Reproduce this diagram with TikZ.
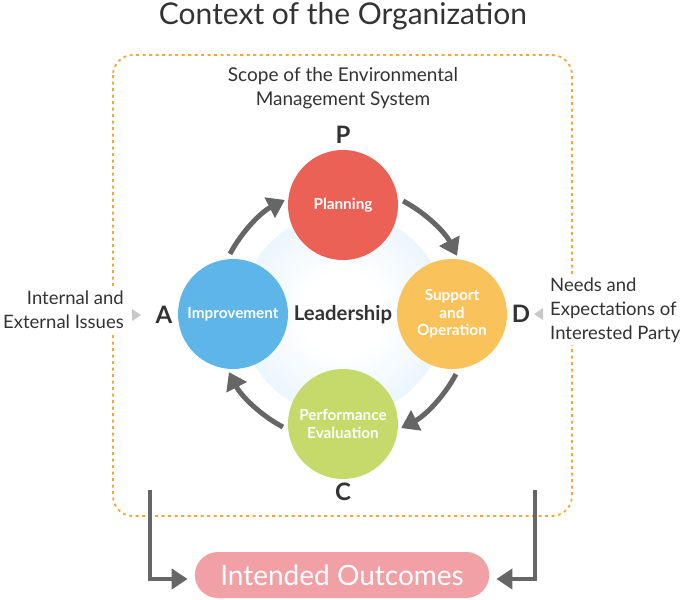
\documentclass[tikz,border=0pt]{standalone}
\usepackage{fontspec}
\setmainfont{Lato}
\usetikzlibrary{arrows.meta,shapes.misc}
\definecolor{cred}{HTML}{EB6155}
\definecolor{cyellow}{HTML}{F9C25A}
\definecolor{cblue}{HTML}{5DB5E8}
\definecolor{cgreen}{HTML}{C5DA6A}
\definecolor{cpink}{HTML}{F1A0A6}
\definecolor{corange}{HTML}{F2A93B}
\definecolor{cgray}{HTML}{666666}
\definecolor{ctext}{HTML}{333333}
\definecolor{ctri}{HTML}{C8C8C8}
\definecolor{glowblue}{HTML}{CBE6FA}
\pgfdeclareradialshading{glow}{\pgfpoint{0bp}{0bp}}{color(0bp)=(white);color(10bp)=(white);color(50bp)=(glowblue)}
\tikzset{
  phase/.style={circle, minimum size=110pt, inner sep=0pt, text=white, align=center,
    font=\fontsize{15.3}{17.5}\selectfont\bfseries},
  letter/.style={text=ctext, font=\fontsize{24}{26}\selectfont\bfseries, inner sep=0pt},
  sidetext/.style={text=ctext, font=\fontsize{18.5}{24}\selectfont, fill=white, inner sep=3pt},
  cyc/.style={draw=cgray, line width=5pt, -{Triangle[length=17pt, width=22pt]}},
  conn/.style={draw=cgray, line width=4pt, -{Triangle[length=16pt, width=20pt]}}
}
\begin{document}
\begin{tikzpicture}[x=1pt,y=-1pt]
\useasboundingbox (0,0) rectangle (686,600);
% title
\node[text=ctext, font=\fontsize{30}{34}\selectfont] (title) at (343,16) {Context of the Organization};
% dotted scope box
\draw[corange, line width=1.8pt, dash pattern=on 3pt off 3.5pt, rounded corners=20pt] (113,55) rectangle (572,516);
\node[text=ctext, font=\fontsize{19}{24}\selectfont, align=center] (scope) at (343,88) {Scope of the Environmental\\Management System};
% glow
\coordinate (ctr) at (343,314);
\shade[shading=glow] (ctr) circle[radius=102pt];
\node[text=ctext, font=\fontsize{20.3}{24}\selectfont\bfseries] (lead) at (343,315) {Leadership};
% phases
\node[phase, fill=cred] (plan) at (343,205) {Planning};
\node[phase, fill=cyellow] (supp) at (452,314) {Support\\and\\Operation};
\node[phase, fill=cgreen] (perf) at (343,424) {Performance\\Evaluation};
\node[phase, fill=cblue] (impr) at (233,314) {Improvement};
% letters
\node[letter] (P) at (343,135) {P};
\node[letter] (D) at (521,314) {D};
\node[letter] (C) at (343,492) {C};
\node[letter] (A) at (164,315) {A};
% cycle arrows
\draw[cyc] (ctr) ++(-152:128) arc[start angle=-152, end angle=-117, radius=128];
\draw[cyc] (ctr) ++(-62:128) arc[start angle=-62, end angle=-27, radius=128];
\draw[cyc] (ctr) ++(28:128) arc[start angle=28, end angle=63, radius=128];
\draw[cyc] (ctr) ++(118:128) arc[start angle=118, end angle=153, radius=128];
% side texts
\node[sidetext, align=right, anchor=east] (int) at (127,310) {Internal and\\External Issues};
\node[sidetext, align=left, anchor=west] (need) at (547,310) {Needs and\\Expectations of\\Interested Party};
\fill[ctri] (132,309) -- (141,315) -- (132,321) -- cycle;
\fill[ctri] (543,308) -- (534,314) -- (543,320) -- cycle;
% outcomes
\node[rounded rectangle, fill=cpink, minimum width=301pt, minimum height=46pt, text=white,
  font=\fontsize{28}{30}\selectfont] (out) at (342,575) {Intended Outcomes};
\coordinate (bl) at (150,490);
\coordinate (br) at (535,490);
\draw[conn, shorten >=7pt] (bl) |- ([yshift=-4pt]out.west);
\draw[conn, shorten >=7pt] (br) |- ([yshift=-4pt]out.east);
\end{tikzpicture}
\end{document}
